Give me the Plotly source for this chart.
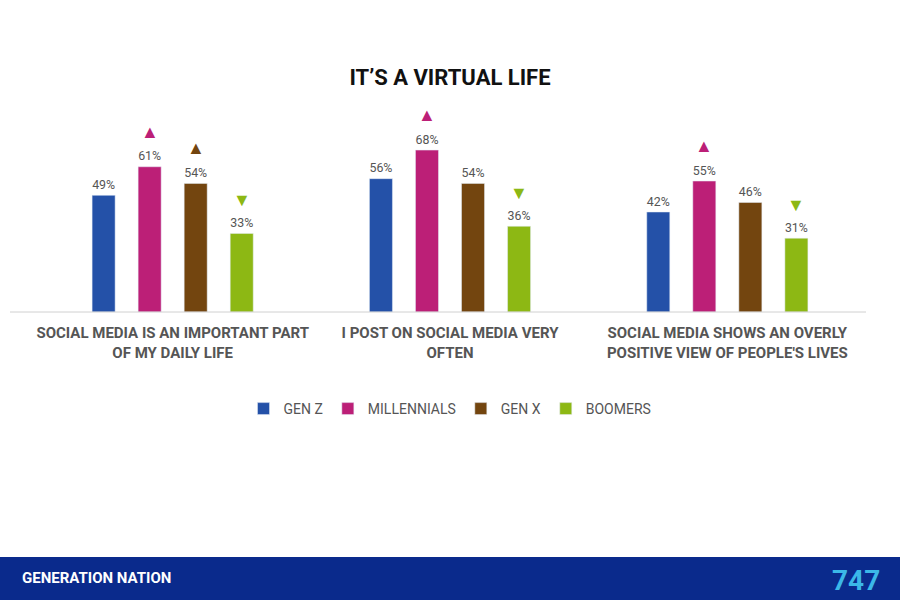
import plotly.graph_objects as go

categories = ["SOCIAL MEDIA IS AN IMPORTANT PART<br>OF MY DAILY LIFE",
              "I POST ON SOCIAL MEDIA VERY<br>OFTEN",
              "SOCIAL MEDIA SHOWS AN OVERLY<br>POSITIVE VIEW OF PEOPLE'S LIVES"]
series = ["GEN Z", "MILLENNIALS", "GEN X", "BOOMERS"]
values = {
    "GEN Z": [49, 56, 42],
    "MILLENNIALS": [61, 68, 55],
    "GEN X": [54, 54, 46],
    "BOOMERS": [33, 36, 31],
}
# arrow indicators: "up", "down" or None
arrows = {
    "GEN Z": [None, None, None],
    "MILLENNIALS": ["up", "up", "up"],
    "GEN X": ["up", None, None],
    "BOOMERS": ["down", "down", "down"],
}
colors = {"GEN Z": "#2451A8", "MILLENNIALS": "#BC1F77", "GEN X": "#73450F", "BOOMERS": "#8DB814"}

font = "Roboto"
fig = go.Figure()
for s in series:
    fig.add_bar(name=s, x=categories, y=values[s], marker_color=colors[s],
                text=[f"{v}%" for v in values[s]], textposition="outside",
                textfont=dict(size=15, color="#555", family=font), cliponaxis=False)

offsets = [-69, -23, 23, 69]
for i, s in enumerate(series):
    for j, c in enumerate(categories):
        a = arrows[s][j]
        if a:
            fig.add_annotation(x=c, y=values[s][j], xref="x", yref="y", xshift=offsets[i],
                               yshift=(36 if a == "up" else 34), showarrow=False,
                               text="▲" if a == "up" else "▼",
                               font=dict(size=18, color=colors[s]))

fig.add_shape(type="line", xref="paper", yref="paper", x0=10/900, x1=866/900, y0=0.48, y1=0.48,
              line=dict(color="#d0d0d0", width=1))
fig.add_shape(type="rect", xref="paper", yref="paper", x0=0, x1=1,
              y0=0, y1=43/600, fillcolor="#0A2A8C", line_width=0, layer="below")
fig.add_annotation(xref="paper", yref="paper", x=20/900, y=22/600, xanchor="left", yanchor="middle",
                   showarrow=False, text="<b>GENERATION NATION</b>",
                   font=dict(size=15, color="white", family=font))
fig.add_annotation(xref="paper", yref="paper", x=882/900, y=20/600, xanchor="right", yanchor="middle",
                   showarrow=False, text="<b>747</b>",
                   font=dict(size=28, color="#3BB7E8", family=font))

fig.update_layout(
    width=900, height=600, barmode="group", bargap=0.336, bargroupgap=0.5,
    paper_bgcolor="white", plot_bgcolor="white",
    margin=dict(l=0, r=0, t=0, b=0),
    title=dict(text="<b>IT’S A VIRTUAL LIFE</b>", x=0.5, y=1-77/600, xanchor="center", yanchor="middle",
               font=dict(size=22, color="#111", family=font)),
    xaxis=dict(domain=[34/900, 866/900], automargin=False, showline=False, ticks="",
               ticklabelstandoff=10,
               tickfont=dict(size=15, color="#555", family=font),
               tickprefix="<b>", ticksuffix="</b>"),
    yaxis=dict(domain=[288/600, 488/600], visible=False, range=[0, 84]),
    legend=dict(orientation="h", x=0.5, xanchor="center", y=1-409/600, yanchor="middle",
                font=dict(size=14, color="#555", family=font), itemwidth=30, tracegroupgap=0),
    showlegend=True,
)
fig.write_html("out.html", config={"displayModeBar": False},
               post_script="document.body.style.margin='0';")
